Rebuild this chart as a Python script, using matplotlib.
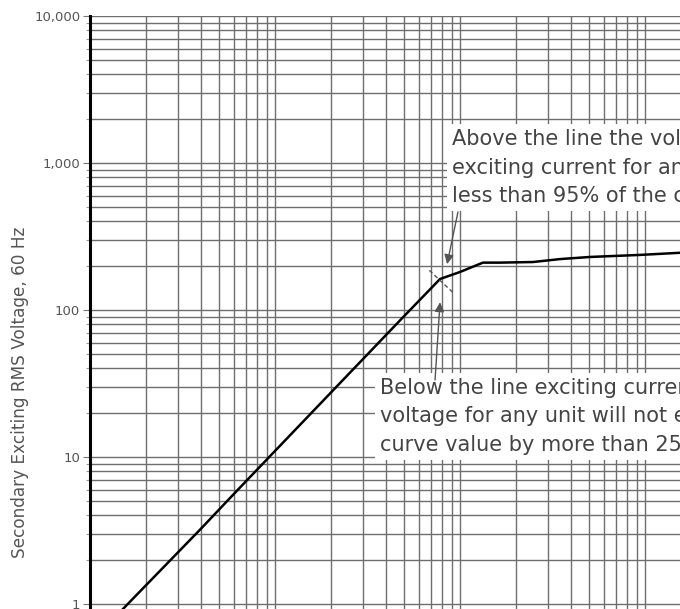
import matplotlib
matplotlib.use("Agg")
import matplotlib.pyplot as plt
from matplotlib.ticker import LogLocator, FixedLocator, NullFormatter

# curve (exciting current A, secondary volts)
current = [0.00135, 0.0016, 0.00393, 0.00631, 0.0474, 0.078, 0.1,
           0.133, 0.164, 0.248, 0.347, 0.504, 0.94, 1.45, 3.0]
voltage = [0.8, 1.0, 3.2, 6.0, 85.0, 162.5, 181.4,
           210, 210, 212, 222, 229.5, 237, 244, 256]

y_ticks = [1, 10, 100, 1000, 10000]
y_tick_labels = ["1", "10", "100", "1,000", "10,000"]

knee_mark_x = [0.0683, 0.0913]
knee_mark_y = [186, 132]

above_text = ("Above the line the voltage for a given\n"
              "exciting current for any unit will not be\n"
              "less than 95% of the curve value.")
below_text = ("Below the line exciting current for a given\n"
              "voltage for any unit will not exceed the\n"
              "curve value by more than 25%.")


def main():
    fig = plt.figure(figsize=(6.8, 6.09), dpi=100)
    # axes runs off the right and bottom edges, like the cropped original
    ax = fig.add_axes([90 / 680, 1 - 751 / 609, 925 / 680, 735 / 609])
    ax.set_xscale("log")
    ax.set_yscale("log")
    ax.set_xlim(0.001, 100)
    ax.set_ylim(0.1, 10000)

    ax.xaxis.set_major_locator(LogLocator(base=10, numticks=20))
    ax.xaxis.set_minor_locator(LogLocator(base=10, subs=range(2, 10), numticks=50))
    ax.yaxis.set_major_locator(FixedLocator(y_ticks))
    ax.yaxis.set_minor_locator(LogLocator(base=10, subs=range(2, 10), numticks=50))
    ax.set_yticklabels(y_tick_labels)
    ax.yaxis.set_minor_formatter(NullFormatter())

    ax.grid(True, which="both", color="#6e6e6e", linewidth=1.0)
    ax.set_axisbelow(True)

    for side in ["top", "right", "bottom"]:
        ax.spines[side].set_visible(False)
    ax.spines["left"].set_linewidth(2.2)
    ax.spines["left"].set_color("black")

    ax.tick_params(axis="y", which="major", length=5, width=0.8, color="#777777",
                   labelsize=9.5, labelcolor="#555555", pad=2)
    ax.tick_params(axis="y", which="minor", length=3, width=0.8, color="#999999")
    ax.tick_params(axis="x", which="both", length=0, labelbottom=False)

    ax.set_ylabel("Secondary Exciting RMS Voltage, 60 Hz", fontsize=12.2, color="#555555")
    ax.yaxis.set_label_coords(-0.066, 0.488)

    ax.plot(current, voltage, color="black", linewidth=1.8, zorder=5)

    # knee marker
    ax.plot(knee_mark_x, knee_mark_y, color="#555555", linewidth=1.0,
            linestyle=(0, (3, 2)), zorder=6)

    box = dict(facecolor="white", edgecolor="none", pad=3.5)
    ax.text(0.0906, 1698, above_text, fontsize=15, color="#444444",
            va="top", ha="left", linespacing=1.53, bbox=box, zorder=4)
    ax.text(0.037, 34.5, below_text, fontsize=15, color="#444444",
            va="top", ha="left", linespacing=1.53, bbox=box, zorder=4)

    arrow = dict(arrowstyle="-|>", color="#555555", lw=1.0, mutation_scale=14,
                 shrinkA=0, shrinkB=0)
    ax.annotate("", xy=(0.0851, 205), xytext=(0.0975, 464),
                arrowprops=arrow, zorder=7)
    ax.annotate("", xy=(0.078, 113), xytext=(0.0733, 33.4),
                arrowprops=arrow, zorder=7)

    fig.savefig("out.png", dpi=100)


if __name__ == "__main__":
    main()
